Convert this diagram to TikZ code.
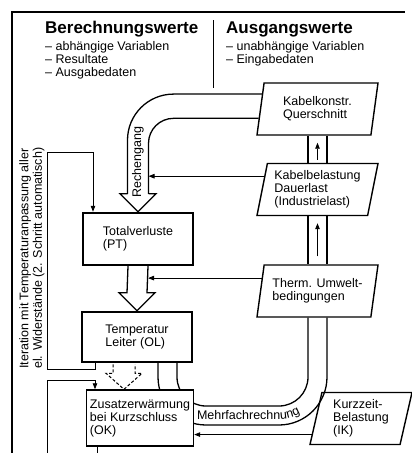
\documentclass[tikz,border=0pt]{standalone}
\usepackage{fontspec}
\setmainfont{Liberation Sans}
\usetikzlibrary{shapes.geometric,arrows.meta,decorations.text}

\tikzset{
  rechenbox/.style={draw, line width=2.4pt, minimum width=110pt, minimum height=52pt, align=left, inner sep=0pt},
  eingabe/.style={draw, trapezium, trapezium left angle=76, trapezium right angle=104,
    trapezium stretches body=true, line width=1.4pt, minimum width=121pt, minimum height=52pt,
    align=left, inner sep=2pt},
  kanal/.style={line width=1.3pt},
  pfeil/.style={-{Triangle[length=6pt,width=4.5pt]}, line width=0.8pt},
  titel/.style={font=\fontsize{17}{20}\selectfont\bfseries, inner sep=0pt},
}

\begin{document}
\begin{tikzpicture}[x=1pt, y=-1pt, every node/.style={font=\fontsize{12.5}{13}\selectfont}]
\useasboundingbox (0,0) rectangle (412,453);
\draw[line width=1.2pt] (12,453) -- (12,12) -- (405,12);

% Kopf
\node[titel, anchor=base west] (berech) at (45,33) {Berechnungswerte};
\node[titel, anchor=base west] (ausg) at (226,33) {Ausgangswerte};
\draw[line width=1pt] (213,20) -- (213,88);
\node[anchor=north west, align=left, inner sep=0pt] (berechListe) at (45,41) {-- abhängige Variablen\\-- Resultate\\-- Ausgabedaten};
\node[anchor=north west, align=left, inner sep=0pt] (ausgListe) at (226,41) {-- unabhängige Variablen\\-- Eingabedaten};

% Eingabedaten
\node[eingabe] (kq) at (317.5,109) {Kabelkonstr.\\Querschnitt};
\node[eingabe] (kd) at (317.5,189.5) {Kabelbelastung\\Dauerlast\\(Industrielast)};
\node[eingabe] (tu) at (317.5,291) {Therm. Umwelt-\\bedingungen};
\node[eingabe, trapezium left angle=74, trapezium right angle=106, minimum width=102pt] (ik) at (361,418.5) {Kurzzeit-\\Belastung\\(IK)};

% Berechnungswerte
\node[rechenbox] (pt) at (138,239) {Totalverluste\\(PT)};
\node[rechenbox, minimum height=50pt] (ol) at (137,337) {Temperatur\\Leiter (OL)};

\coordinate (pL) at (308,0);
\coordinate (pM) at (317.5,0);
\coordinate (pR) at (327,0);
\draw[kanal] (kq.south -| pL) -- (kd.north -| pL);
\draw[kanal] (kq.south -| pR) -- (kd.north -| pR);
\draw[pfeil, shorten <=3pt, shorten >=7pt] (kd.north -| pM) -- (kq.south -| pM);
\draw[kanal] (kd.south -| pL) -- (tu.north -| pL);
\draw[kanal] (kd.south -| pR) -- (tu.north -| pR);
\draw[pfeil, shorten <=8pt, shorten >=7pt] (tu.north -| pM) -- (kd.south -| pM);

% Rechengang
\coordinate (rh) at ([yshift=18pt]pt.north);
\coordinate (rhL) at ([xshift=-10.5pt]rh);
\coordinate (rhR) at ([xshift=10.5pt]rh);
\draw[kanal, rounded corners=46pt] (kq.165) -| (rhL);
\draw[kanal, rounded corners=25pt] (kq.189) -| (rhR);
\draw[kanal] (rhL) -- ([xshift=-18pt]rh) -- (pt.north) -- ([xshift=18pt]rh) -- (rhR);
\node[rotate=90, inner sep=0pt] (rg) at (138,162) {Rechengang};
\draw[pfeil] (kd.166) -- (kd.166 -| rhR);

% PT -> OL
\coordinate (hd) at ([yshift=18pt]ol.north);
\draw[kanal] ([xshift=-10pt]pt.south) -- ([xshift=-10pt]hd) -- ([xshift=-18pt]hd) -- (ol.north) -- ([xshift=18pt]hd) -- ([xshift=10pt]hd) -- ([xshift=10pt]pt.south);
\coordinate (bR) at ([xshift=10pt]pt.south);
\draw[pfeil] (tu.167) -- (tu.167 -| bR);

% Mehrfachrechnung
\coordinate (uIn) at (177,406);
\coordinate (uOut) at (158,425);
\draw[kanal, rounded corners=29pt] (tu.south -| pL) |- (uIn) -- (uIn |- ol.south);
\draw[kanal, rounded corners=48pt] (tu.south -| pR) |- (uOut) -- (uOut |- ol.south);
\coordinate (mt) at (197,419);
\path[rounded corners=41pt, decorate, decoration={text along path, text={|\fontsize{12.5}{13}\selectfont|Mehrfachrechnung}}] (mt) -| (321,330);

\node[rechenbox, line width=1.4pt, minimum width=107pt, minimum height=56pt, fill=white] (zk) at (140,418) {Zusatzerwärmung\\bei Kurzschluss\\(OK)};
\draw[pfeil] (ik.198) -- (ik.198 -| zk.east);

% gestrichelter Pfeil OL -> ZK
\coordinate (dh) at ([xshift=-16pt,yshift=16pt]zk.north);
\draw[dash pattern=on 3pt off 2pt, line width=1pt] ([xshift=-11pt,yshift=9pt]dh) -- ([xshift=-11pt]dh) -- ([xshift=-18pt]dh) -- ([xshift=-16pt]zk.north) -- ([xshift=18pt]dh) -- ([xshift=11pt]dh) -- ([xshift=11pt,yshift=9pt]dh);

% Iteration
\coordinate (lA) at (47,152);
\coordinate (lB) at (47,369);
\coordinate (lC) at (47,380);
\coordinate (lD) at (47,460);
\draw[pfeil] ([xshift=-42pt]ol.south) |- (lB) -- (lA) -| ([xshift=-45pt]pt.north);
\draw[pfeil] (lD) -- (lC) -| ([xshift=-45pt]zk.north);
\draw[line width=0.8pt] ([xshift=-43pt]zk.south) -- ++(0,15);
\node[rotate=90, anchor=north west, align=left, inner sep=0pt, font=\fontsize{12.5}{13.5}\selectfont] (iter) at (19,369) {Iteration mit Temperaturanpassung aller\\el. Widerstände (2. Schritt automatisch)};
\end{tikzpicture}
\end{document}
